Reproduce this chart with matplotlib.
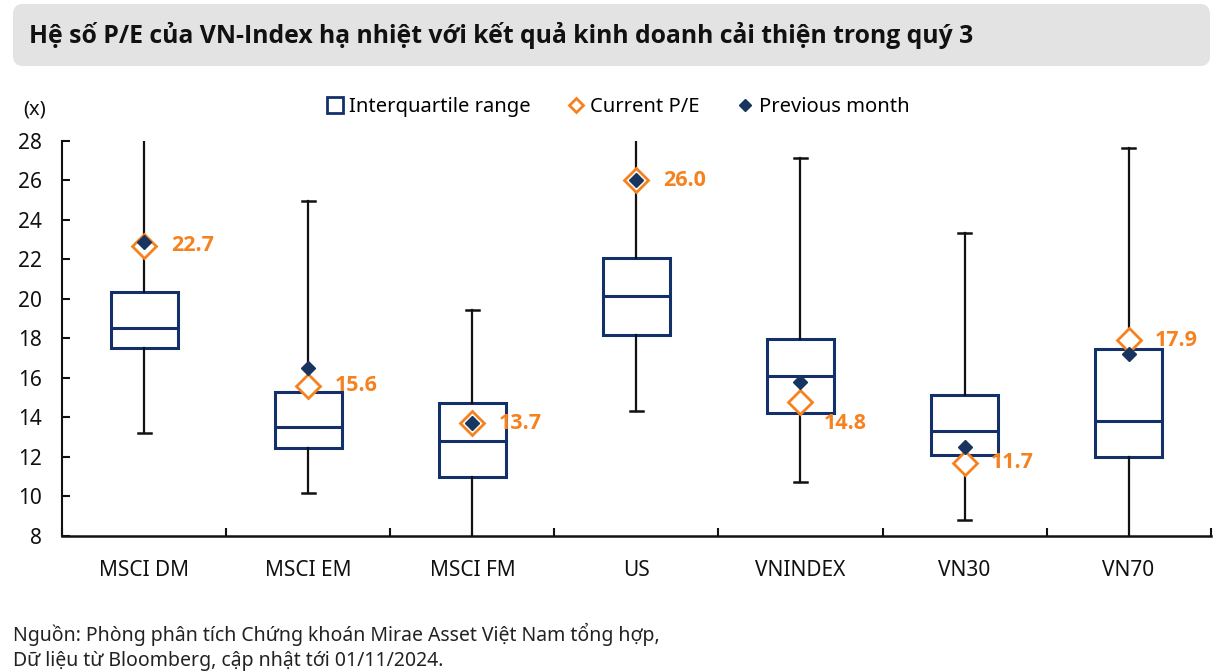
import numpy as np
import matplotlib
matplotlib.use("Agg")
import matplotlib.pyplot as plt
from matplotlib.lines import Line2D
from matplotlib.patches import FancyBboxPatch

plt.rcParams['font.family'] = ['Noto Sans', 'DejaVu Sans']
bold_family = ['Open Sans', 'DejaVu Sans']

# data
categories = ["MSCI DM", "MSCI EM", "MSCI FM", "US", "VNINDEX", "VN30", "VN70"]
q1 = [17.5, 12.45, 11.0, 18.2, 14.25, 12.1, 12.0]
median = [18.55, 13.5, 12.8, 20.15, 16.1, 13.3, 13.8]
q3 = [20.35, 15.3, 14.75, 22.1, 17.95, 15.15, 17.45]
whislo = [13.2, 10.2, 7.0, 14.35, 10.75, 8.8, 7.0]
whishi = [29.0, 24.95, 19.45, 29.5, 27.15, 23.35, 27.65]
current_pe = [22.7, 15.6, 13.7, 26.0, 14.8, 11.7, 17.9]
previous_month = [22.9, 16.5, 13.7, 26.0, 15.8, 12.5, 17.2]

navy = "#14306b"
orange = "#f5821f"
dark = "#17355f"

fig = plt.figure(figsize=(12.24, 6.72), dpi=100)
ax = fig.add_axes([0.051, 0.2024, 0.938, 0.5878])

# title bar
fig.patches.append(FancyBboxPatch((0.13, 6.06), 11.97, 0.62,
                                  boxstyle="round,pad=0,rounding_size=0.1",
                                  transform=fig.dpi_scale_trans,
                                  facecolor="#e3e3e3", edgecolor="none"))
fig.text(0.0237, 1 - 35 / 672,
         "Hệ số P/E của VN-Index hạ nhiệt với kết quả kinh doanh cải thiện trong quý 3",
         fontsize=17.8, fontweight="bold", family=bold_family, color="#111111",
         va="center", ha="left")

pos = np.arange(len(categories))
stats = []
for i in range(len(categories)):
    stats.append(dict(q1=q1[i], med=median[i], q3=q3[i],
                      whislo=whislo[i], whishi=whishi[i], label=categories[i]))

ax.bxp(stats, positions=pos, widths=0.41, capwidths=0.08, showfliers=False,
       patch_artist=True,
       boxprops=dict(facecolor="white", edgecolor=navy, linewidth=2.2),
       medianprops=dict(color=navy, linewidth=2.2),
       whiskerprops=dict(color="#111111", linewidth=1.6),
       capprops=dict(color="#111111", linewidth=1.8))

ax.plot(pos, current_pe, ls="none", marker="D", ms=12.5, mfc="white", mec=orange,
        mew=2, zorder=4, clip_on=False)
ax.plot(pos, previous_month, ls="none", marker="D", ms=7.5, color=dark, zorder=5,
        clip_on=False)

for i, v in enumerate(current_pe):
    dx, dy = 19, 0
    if categories[i] == "VNINDEX":
        dx, dy = 17, -16
    ax.annotate(f"{v:.1f}", (pos[i], v), xytext=(dx, dy), textcoords="offset points",
                ha="left", va="center", fontsize=15.5, fontweight="bold",
                family=bold_family, color=orange)

ax.set_xlim(-0.5, len(categories) - 0.5)
ax.set_ylim(8, 28)
ax.set_yticks(np.arange(8, 29, 2))
ax.set_xticks(pos)
ax.set_xticklabels(categories)
ax.set_xticks(np.arange(-0.5, len(categories), 1), minor=True)
ax.tick_params(axis="x", which="major", length=0, pad=17, labelsize=15, labelcolor="#111111")
ax.tick_params(axis="x", which="minor", direction="in", length=6, width=1.5, color="#111111")
ax.tick_params(axis="y", direction="in", length=6, width=1.5, pad=15, labelsize=15,
               labelcolor="#111111", color="#111111")

for s in ["top", "right"]:
    ax.spines[s].set_visible(False)
ax.spines["left"].set_linewidth(1.5)
ax.spines["bottom"].set_linewidth(1.8)
ax.spines["left"].set_color("#111111")
ax.spines["bottom"].set_color("#111111")

fig.text(35 / 1224, 1 - 109 / 672, "(x)", fontsize=14.5, ha="center", va="center",
         color="#111111")

handles = [
    Line2D([], [], ls="none", marker="s", ms=11, mfc="white", mec=navy, mew=2),
    Line2D([], [], ls="none", marker="D", ms=7, mfc="white", mec=orange, mew=2),
    Line2D([], [], ls="none", marker="D", ms=6.5, color=dark),
]
fig.legend(handles, ["Interquartile range", "Current P/E", "Previous month"],
           loc="center", bbox_to_anchor=(0.505, 1 - 107 / 672), ncol=3, frameon=False,
           fontsize=14.5, handlelength=0.9, handletextpad=0.25, columnspacing=1.8)

fig.text(13 / 1224, 1 - 634 / 672,
         "Nguồn: Phòng phân tích Chứng khoán Mirae Asset Việt Nam tổng hợp,",
         fontsize=14, color="#222222", ha="left", va="center")
fig.text(13 / 1224, 1 - 661 / 672,
         "Dữ liệu từ Bloomberg, cập nhật tới 01/11/2024.",
         fontsize=14, color="#222222", ha="left", va="center")

fig.savefig("out.png", dpi=100)
